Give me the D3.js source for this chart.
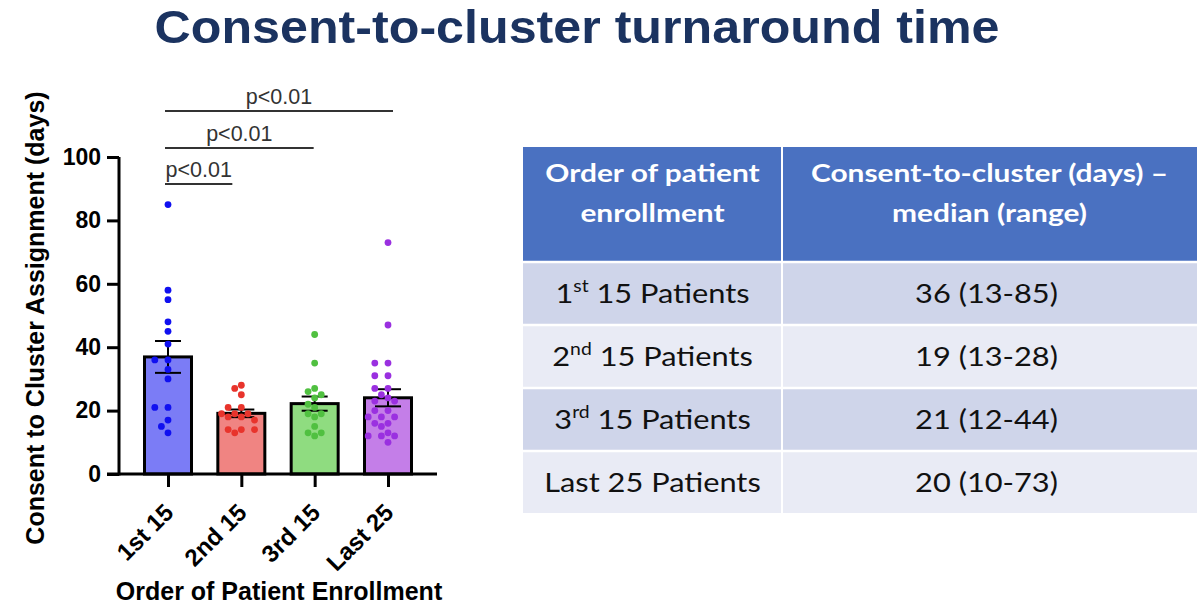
<!DOCTYPE html>
<html>
<head>
<meta charset="utf-8">
<script src="https://cdn.jsdelivr.net/npm/d3@7"></script>
<style>
  body { margin: 0; background: #fff; }
  svg { display: block; }
</style>
</head>
<body>
<div id="chart"></div>
<script>
// Groups and individual patient values (days)
const groups = ["1st 15", "2nd 15", "3rd 15", "Last 25"];
const first15 = [85, 58, 55, 48, 45, 41, 36, 36, 33, 30, 21, 21, 17, 15, 13];
const second15 = [28, 27, 25, 21, 21, 19, 19, 19, 18, 18, 17, 14, 14, 14, 13];
const third15 = [44, 35, 27, 26, 25, 24, 22, 21, 19, 19, 18, 15, 13, 13, 12];
const last25 = [73, 47, 35, 35, 31, 31, 27, 27, 25, 24, 23, 23, 20, 20, 18, 18, 18, 16, 16, 15, 13, 12, 12, 12, 10];
const groupValues = [first15, second15, third15, last25];
const yTicks = [0, 20, 40, 60, 80, 100];

// significance brackets: first group vs each later group
const comparisons = [
    { from: "1st 15", to: "2nd 15", label: "p<0.01" },
    { from: "1st 15", to: "3rd 15", label: "p<0.01" },
    { from: "1st 15", to: "Last 25", label: "p<0.01" }
];

// table content
const tableHeader = [["Order of patient", "enrollment"], ["Consent-to-cluster (days) \u2013", "median (range)"]];
const rowOrdinal = ["1", "2", "3", "Last 25 Patients"];
const rowSuffix = ["st", "nd", "rd", ""];
const rowMedians = ["36 (13-85)", "19 (13-28)", "21 (12-44)", "20 (10-73)"];

const dotColors = ["#1010f0", "#e8342c", "#50c040", "#9a30e0"];
const barColors = ["#7b7cf6", "#f08482", "#8fdc80", "#c47ee8"];

const W = 1200, H = 609;
const svg = d3.select("#chart").append("svg")
    .attr("width", W).attr("height", H);

// Title
svg.append("text")
    .attr("x", 577).attr("y", 43)
    .attr("text-anchor", "middle")
    .attr("font-family", "Liberation Sans, Arial, sans-serif")
    .attr("font-weight", "bold")
    .attr("font-size", 46)
    .attr("fill", "#1b3360")
    .attr("textLength", 845)
    .attr("lengthAdjust", "spacingAndGlyphs")
    .text("Consent-to-cluster turnaround time");

// ---- Chart ----
const axisX = 119, baseY = 474, topY = 157;
const y = d3.scaleLinear().domain([0, 100]).range([baseY, topY]);
const x = d3.scalePoint().domain(groups).range([168, 388]);
const barW = 47;
const font = "Liberation Sans, Arial, sans-serif";

const stats = groups.map((g, i) => {
    const v = groupValues[i];
    const m = d3.mean(v);
    const sem = d3.deviation(v) / Math.sqrt(v.length);
    return { g, i, mean: m, sem };
});

const chart = svg.append("g");

// bars
chart.selectAll("rect.bar")
    .data(stats)
    .enter().append("rect")
    .attr("class", "bar")
    .attr("x", d => x(d.g) - barW / 2)
    .attr("y", d => y(d.mean))
    .attr("width", barW)
    .attr("height", d => baseY - y(d.mean))
    .attr("fill", d => barColors[d.i])
    .attr("stroke", "#000")
    .attr("stroke-width", 3);

// simple beeswarm so equal values sit side by side
const r = 3.4, minDist = 7.2;
const dots = [];
groups.forEach((g, i) => {
    const placed = [];
    groupValues[i].slice().sort((a, b) => b - a).forEach(v => {
        const py = y(v);
        let off = 0;
        for (let k = 0; k < 40; k++) {
            const cand = k === 0 ? 0 : (k % 2 ? -1 : 1) * Math.ceil(k / 2) * 6.6;
            const ok = placed.every(p => Math.hypot(p.dx - cand, p.py - py) >= minDist);
            if (ok) { off = cand; break; }
        }
        placed.push({ dx: off, py });
        dots.push({ g, i, v, dx: off });
    });
});

// error bars (mean +/- SEM)
const eb = chart.selectAll("g.err")
    .data(stats)
    .enter().append("g")
    .attr("class", "err")
    .attr("stroke", "#000")
    .attr("stroke-width", 2);
eb.append("line")
    .attr("x1", d => x(d.g)).attr("x2", d => x(d.g))
    .attr("y1", d => y(d.mean + d.sem)).attr("y2", d => y(d.mean - d.sem));
eb.append("line")
    .attr("x1", d => x(d.g) - 13).attr("x2", d => x(d.g) + 13)
    .attr("y1", d => y(d.mean + d.sem)).attr("y2", d => y(d.mean + d.sem));
eb.append("line")
    .attr("x1", d => x(d.g) - 13).attr("x2", d => x(d.g) + 13)
    .attr("y1", d => y(d.mean - d.sem)).attr("y2", d => y(d.mean - d.sem));

chart.selectAll("circle.dot")
    .data(dots)
    .enter().append("circle")
    .attr("class", "dot")
    .attr("cx", d => x(d.g) + d.dx)
    .attr("cy", d => y(d.v))
    .attr("r", r)
    .attr("fill", d => dotColors[d.i]);

// y axis
const yAxis = chart.append("g")
    .attr("transform", `translate(${axisX},0)`)
    .call(d3.axisLeft(y).tickValues(yTicks).tickSize(12).tickPadding(6).tickSizeOuter(0));
yAxis.select(".domain").attr("stroke-width", 3).attr("d", `M0,${topY}V${baseY + 1.5}`);
yAxis.selectAll(".tick line").attr("stroke-width", 3);
yAxis.selectAll(".tick text")
    .attr("font-family", font).attr("font-weight", "bold").attr("font-size", 23).attr("fill", "#000");

// x axis
const xAxis = chart.append("g")
    .attr("transform", `translate(0,${baseY})`)
    .call(d3.axisBottom(x).tickSize(13).tickSizeOuter(0).tickFormat(""));
xAxis.select(".domain").attr("stroke-width", 3).attr("d", "M107,0H437");
xAxis.selectAll(".tick line").attr("stroke-width", 3);

chart.selectAll("text.xlab")
    .data(groups)
    .enter().append("text")
    .attr("class", "xlab")
    .attr("transform", d => `translate(${x(d) + 1},${baseY + 34}) rotate(-45)`)
    .attr("text-anchor", "end")
    .attr("dy", "0.35em")
    .attr("font-family", font).attr("font-weight", "bold").attr("font-size", 24)
    .text(d => d);

// axis titles
chart.append("text")
    .attr("transform", `translate(44,318) rotate(-90)`)
    .attr("text-anchor", "middle")
    .attr("font-family", font).attr("font-weight", "bold").attr("font-size", 25)
    .text("Consent to Cluster Assignment (days)");

chart.append("text")
    .attr("x", 279).attr("y", 600)
    .attr("text-anchor", "middle")
    .attr("font-family", font).attr("font-weight", "bold").attr("font-size", 25)
    .text("Order of Patient Enrollment");

// significance brackets
const bracketY = [184, 148, 111];
const sig = chart.selectAll("g.sig")
    .data(comparisons)
    .enter().append("g")
    .attr("class", "sig");
sig.append("line")
    .attr("x1", d => x(d.from) - 3)
    .attr("x2", (d, i) => x(d.to) - [9, 1, -5][i])
    .attr("y1", (d, i) => bracketY[i]).attr("y2", (d, i) => bracketY[i])
    .attr("stroke", "#333").attr("stroke-width", 2);
sig.append("text")
    .attr("x", (d, i) => (x(d.from) - 3 + x(d.to) - [9, 1, -5][i]) / 2)
    .attr("y", (d, i) => bracketY[i] - 7)
    .attr("text-anchor", "middle")
    .attr("font-family", font).attr("font-size", 21.5).attr("fill", "#333")
    .text(d => d.label);

// ---- Table ----
const tx0 = 523, tx1 = 1197, tDiv = 782;
const rowY = [147, 262, 325, 388, 451, 513];
const tfont = "Lato, Open Sans, sans-serif";
const table = svg.append("g");
const cols = [[tx0, tDiv], [tDiv, tx1]];
const headStretch = 1.22, bodyStretch = 1.14;

table.append("rect")
    .attr("x", tx0).attr("y", rowY[0])
    .attr("width", tx1 - tx0).attr("height", rowY[1] - rowY[0])
    .attr("fill", "#4a71c1");

rowMedians.forEach((m, i) => {
    table.append("rect")
        .attr("x", tx0).attr("y", rowY[i + 1])
        .attr("width", tx1 - tx0).attr("height", rowY[i + 2] - rowY[i + 1])
        .attr("fill", i % 2 === 0 ? "#cfd5ea" : "#e9ebf5");
});

// cell borders
rowY.slice(1, 5).forEach(yy => {
    table.append("line").attr("x1", tx0).attr("x2", tx1).attr("y1", yy).attr("y2", yy)
        .attr("stroke", "#fff").attr("stroke-width", 2.5);
});
table.append("line").attr("x1", tDiv).attr("x2", tDiv).attr("y1", rowY[0]).attr("y2", rowY[5])
    .attr("stroke", "#fff").attr("stroke-width", 2);

tableHeader.forEach((lines, c) => {
    const cx = (cols[c][0] + cols[c][1]) / 2;
    lines.forEach((ln, k) => {
        table.append("text")
            .attr("transform", `translate(${cx},${182 + k * 40}) scale(${headStretch},1)`)
            .attr("text-anchor", "middle")
            .attr("font-family", tfont).attr("font-weight", "bold").attr("font-size", 24.5)
            .attr("fill", "#fff")
            .text(ln);
    });
});

rowMedians.forEach((m, i) => {
    const by = (rowY[i + 1] + rowY[i + 2]) / 2 + 9.5;
    const t = table.append("text")
        .attr("transform", `translate(${(tx0 + tDiv) / 2},${by}) scale(${bodyStretch},1)`)
        .attr("text-anchor", "middle")
        .attr("font-family", tfont).attr("font-size", 27).attr("fill", "#111");
    if (rowSuffix[i]) {
        t.append("tspan").text(rowOrdinal[i]);
        t.append("tspan").attr("font-size", 17).attr("dy", -11).text(rowSuffix[i]);
        t.append("tspan").attr("dy", 11).text(" 15 Patients");
    } else {
        t.text(rowOrdinal[i]);
    }
    table.append("text")
        .attr("transform", `translate(${(tDiv + tx1) / 2 - 3},${by}) scale(${bodyStretch},1)`)
        .attr("text-anchor", "middle")
        .attr("font-family", tfont).attr("font-size", 27).attr("fill", "#111")
        .text(m);
});
</script>
</body>
</html>
